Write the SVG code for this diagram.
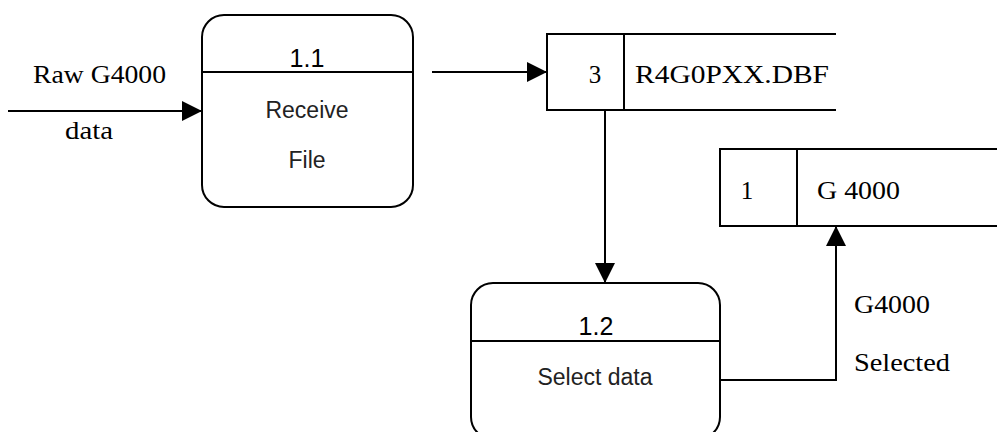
<svg xmlns="http://www.w3.org/2000/svg" width="997" height="432" viewBox="0 0 997 432">
<style>
.box{fill:#fff;stroke:#000;stroke-width:2}
.ln{fill:none;stroke:#000;stroke-width:2}
.sans{font-family:"Liberation Sans",Arial,sans-serif;font-size:23px;fill:#222;text-anchor:middle}
.num{font-family:"Liberation Sans",Arial,sans-serif;font-size:25px;fill:#000;text-anchor:middle}
.serif{font-family:"Liberation Serif","Times New Roman",serif;font-size:25px;fill:#000}
</style>
<defs>
<marker id="ah" markerUnits="userSpaceOnUse" markerWidth="20" markerHeight="20" viewBox="0 0 20 20" refX="20" refY="10" orient="auto">
<path d="M0,0 L20,10 L0,20 Z" fill="#000"/>
</marker>
</defs>
<rect width="997" height="432" fill="#fff"/>
<g id="connectors">
<line class="ln" x1="8" y1="111" x2="202" y2="111" marker-end="url(#ah)"/>
<line class="ln" x1="432" y1="72" x2="547" y2="72" marker-end="url(#ah)"/>
<line class="ln" x1="605" y1="110" x2="605" y2="283" marker-end="url(#ah)"/>
<polyline class="ln" points="720,380 836,380 836,226" marker-end="url(#ah)"/>
<text class="serif" x="33" y="83" textLength="133" lengthAdjust="spacingAndGlyphs">Raw G4000</text>
<text class="serif" x="65" y="139" textLength="48" lengthAdjust="spacingAndGlyphs">data</text>
<text class="serif" x="854" y="313" textLength="76" lengthAdjust="spacingAndGlyphs">G4000</text>
<text class="serif" x="854" y="371" textLength="96" lengthAdjust="spacingAndGlyphs">Selected</text>
</g>
<g id="p1_1">
<rect class="box" x="202" y="15" width="211" height="192" rx="22" ry="22"/>
<line class="ln" x1="202" y1="72" x2="413" y2="72"/>
<text class="num" x="307" y="67">1.1</text>
<text class="sans" x="307" y="118">Receive</text>
<text class="sans" x="307" y="168">File</text>
</g>
<g id="ds3">
<polyline class="ln" points="836,34 547,34 547,110 836,110"/>
<line class="ln" x1="624" y1="34" x2="624" y2="110"/>
<text class="serif" x="595" y="83" text-anchor="middle">3</text>
<text class="serif" x="635" y="83" textLength="194" lengthAdjust="spacingAndGlyphs">R4G0PXX.DBF</text>
</g>
<g id="ds1">
<polyline class="ln" points="1000,149 720,149 720,226 1000,226"/>
<line class="ln" x1="797" y1="149" x2="797" y2="226"/>
<text class="serif" x="747" y="199" text-anchor="middle">1</text>
<text class="serif" x="817" y="199" textLength="83" lengthAdjust="spacingAndGlyphs">G 4000</text>
</g>
<g id="p1_2">
<rect class="box" x="471" y="283" width="249" height="156" rx="22" ry="22"/>
<line class="ln" x1="471" y1="341" x2="720" y2="341"/>
<text class="num" x="596" y="335">1.2</text>
<text class="sans" x="595" y="385">Select data</text>
</g>
</svg>
